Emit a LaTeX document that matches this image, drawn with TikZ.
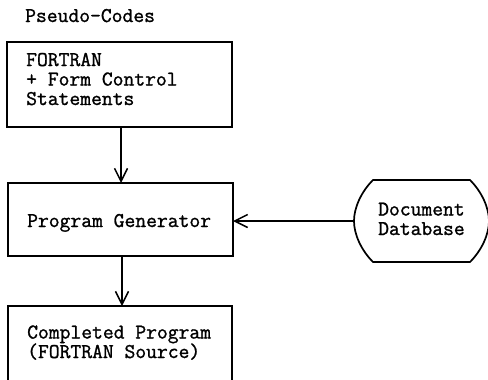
\documentclass[tikz,border=0pt]{standalone}
\usepackage{fontspec}
\setmonofont{Latin Modern Mono}[FakeBold=1.2]
\usetikzlibrary{arrows.meta}
\begin{document}
\begin{tikzpicture}[x=1pt,y=-1pt,
  every node/.style={font=\fontsize{21}{19.5}\selectfont\ttfamily, inner sep=0pt},
  txt/.style={anchor=base west, align=left},
  box/.style={draw=black, line width=1.7pt},
  flow/.style={line width=1.5pt, -{Straight Barb[length=13pt,width=13pt,line width=1.5pt]}}]
  \clip (0,0) rectangle (488,380);
  \fill[white] (0,0) rectangle (488,380);

  % heading
  \node[txt] (title) at (25,22) {Pseudo-Codes};

  % pseudo-code input box (multi-line texts are placed by their last baseline)
  \draw[box] (7,42) rectangle (232,127);
  \coordinate (srcbot) at (121,127);
  \node[txt] (src) at (26,105) {FORTRAN\\+ Form Control\\Statements};

  % generator box
  \draw[box] (8,183) rectangle (233,256);
  \coordinate (gentop) at (121,183);
  \coordinate (genbot) at (122,256);
  \coordinate (genright) at (233,221);
  \node[txt] (gen) at (27,227) {Program Generator};

  % output box (runs past the lower edge)
  \draw[box] (8,306) rectangle (232,400);
  \coordinate (outtop) at (122,306);
  \node[txt] (out) at (27,358) {Completed Program\\(FORTRAN Source)};

  % document database store
  \draw[box] (373,180) -- (470,180)
    .. controls (482,192) and (489,208) .. (489,221)
    .. controls (489,234) and (482,250) .. (470,262)
    -- (373,262)
    .. controls (361,250) and (354,234) .. (354,221)
    .. controls (354,208) and (361,192) .. (373,180) -- cycle;
  \coordinate (dbleft) at (354,221);
  \node[txt] (db) at (378,235) {Document\\Database};

  % connectors
  \draw[flow] (srcbot) -- (gentop);
  \draw[flow] (genbot) -- (outtop);
  \draw[flow] (dbleft) -- (genright);
\end{tikzpicture}
\end{document}
